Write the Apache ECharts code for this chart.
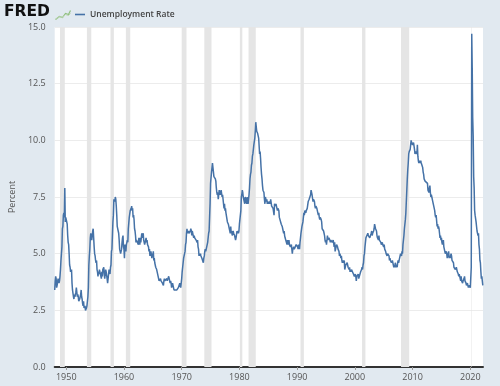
<!DOCTYPE html>
<html><head><meta charset="utf-8">
<script src="https://cdn.jsdelivr.net/npm/echarts@6/dist/echarts.min.js"></script>
<style>html,body{margin:0;padding:0;background:#e1e9f0;}#c{width:500px;height:386px;}</style>
</head><body><div id="c"></div>
<script>
const startYear = 1948;
// Monthly unemployment rate (%), one row per year starting 1948
const rates = [
[3.4,3.8,4.0,3.9,3.5,3.6,3.6,3.9,3.8,3.7,3.8,4.0],
[4.3,4.7,5.0,5.3,6.1,6.2,6.7,6.8,6.6,7.9,6.4,6.6],
[6.5,6.4,6.3,5.8,5.5,5.4,5.0,4.5,4.4,4.2,4.2,4.3],
[3.7,3.4,3.4,3.1,3.0,3.2,3.1,3.1,3.3,3.5,3.5,3.1],
[3.2,3.1,2.9,2.9,3.0,3.0,3.2,3.4,3.1,3.0,2.8,2.7],
[2.9,2.6,2.6,2.7,2.5,2.5,2.6,2.7,2.9,3.1,3.5,4.5],
[4.9,5.2,5.7,5.9,5.9,5.6,5.8,6.0,6.1,5.7,5.3,5.0],
[4.9,4.7,4.6,4.7,4.3,4.2,4.0,4.2,4.1,4.3,4.2,4.2],
[4.0,3.9,4.2,4.0,4.3,4.3,4.4,4.1,3.9,3.9,4.3,4.2],
[4.2,3.9,3.7,3.9,4.1,4.3,4.2,4.1,4.4,4.5,5.1,5.2],
[5.8,6.4,6.7,7.4,7.4,7.3,7.5,7.4,7.1,6.7,6.2,6.2],
[6.0,5.9,5.6,5.2,5.1,5.0,5.1,5.2,5.5,5.7,5.8,5.3],
[5.2,4.8,5.4,5.2,5.1,5.4,5.5,5.6,5.5,6.1,6.1,6.6],
[6.6,6.9,6.9,7.0,7.1,6.9,7.0,6.6,6.7,6.5,6.1,6.0],
[5.8,5.5,5.6,5.6,5.5,5.5,5.4,5.7,5.6,5.4,5.7,5.5],
[5.7,5.9,5.7,5.7,5.9,5.6,5.6,5.4,5.5,5.5,5.7,5.5],
[5.6,5.4,5.4,5.3,5.1,5.2,4.9,5.0,5.1,5.1,4.8,5.0],
[4.9,5.1,4.7,4.8,4.6,4.6,4.4,4.4,4.3,4.2,4.1,4.0],
[4.0,3.8,3.8,3.8,3.9,3.8,3.8,3.8,3.7,3.7,3.6,3.8],
[3.9,3.8,3.8,3.8,3.8,3.9,3.8,3.8,3.8,4.0,3.9,3.8],
[3.7,3.8,3.7,3.5,3.5,3.7,3.7,3.5,3.4,3.4,3.4,3.4],
[3.4,3.4,3.4,3.4,3.4,3.5,3.5,3.5,3.7,3.7,3.5,3.5],
[3.9,4.2,4.4,4.6,4.8,4.9,5.0,5.1,5.4,5.5,5.9,6.1],
[5.9,5.9,6.0,5.9,5.9,5.9,6.0,6.1,6.0,5.8,6.0,6.0],
[5.8,5.7,5.8,5.7,5.7,5.7,5.6,5.6,5.5,5.6,5.3,5.2],
[4.9,5.0,4.9,5.0,4.9,4.9,4.8,4.8,4.8,4.6,4.8,4.9],
[5.1,5.2,5.1,5.1,5.1,5.4,5.5,5.5,5.9,6.0,6.6,7.2],
[8.1,8.1,8.6,8.8,9.0,8.8,8.6,8.4,8.4,8.4,8.3,8.2],
[7.9,7.7,7.6,7.7,7.4,7.6,7.8,7.8,7.6,7.7,7.8,7.8],
[7.5,7.6,7.4,7.2,7.0,7.2,6.9,7.0,6.8,6.8,6.8,6.4],
[6.4,6.3,6.3,6.1,6.0,5.9,6.2,5.9,6.0,5.8,5.9,6.0],
[5.9,5.9,5.8,5.8,5.6,5.7,5.7,6.0,5.9,6.0,5.9,6.0],
[6.3,6.3,6.3,6.9,7.5,7.6,7.8,7.7,7.5,7.5,7.5,7.2],
[7.5,7.4,7.4,7.2,7.5,7.5,7.2,7.4,7.6,7.9,8.3,8.5],
[8.6,8.9,9.0,9.3,9.4,9.6,9.8,9.8,10.1,10.4,10.8,10.8],
[10.4,10.4,10.3,10.2,10.1,10.1,9.4,9.5,9.2,8.8,8.5,8.3],
[8.0,7.8,7.8,7.7,7.4,7.2,7.5,7.5,7.3,7.4,7.2,7.3],
[7.3,7.2,7.2,7.3,7.2,7.4,7.4,7.1,7.1,7.1,7.0,7.0],
[6.7,7.2,7.2,7.1,7.2,7.2,7.0,6.9,7.0,7.0,6.9,6.6],
[6.6,6.6,6.6,6.3,6.3,6.2,6.1,6.0,5.9,6.0,5.8,5.7],
[5.7,5.7,5.7,5.4,5.6,5.4,5.4,5.6,5.4,5.4,5.3,5.3],
[5.4,5.2,5.0,5.2,5.2,5.3,5.2,5.2,5.3,5.3,5.4,5.4],
[5.4,5.3,5.2,5.4,5.4,5.2,5.5,5.7,5.9,5.9,6.2,6.3],
[6.4,6.6,6.8,6.7,6.9,6.9,6.8,6.9,6.9,7.0,7.0,7.3],
[7.3,7.4,7.4,7.4,7.6,7.8,7.7,7.6,7.6,7.3,7.4,7.4],
[7.3,7.1,7.0,7.1,7.1,7.0,6.9,6.8,6.7,6.8,6.6,6.5],
[6.6,6.6,6.5,6.4,6.1,6.1,6.1,6.0,5.9,5.8,5.6,5.5],
[5.6,5.4,5.4,5.8,5.6,5.6,5.7,5.7,5.6,5.5,5.6,5.6],
[5.6,5.5,5.5,5.6,5.6,5.3,5.5,5.1,5.2,5.2,5.4,5.4],
[5.3,5.2,5.2,5.1,4.9,5.0,4.9,4.8,4.9,4.7,4.6,4.7],
[4.6,4.6,4.7,4.3,4.4,4.5,4.5,4.5,4.6,4.5,4.4,4.4],
[4.3,4.4,4.2,4.3,4.2,4.3,4.3,4.2,4.2,4.1,4.1,4.0],
[4.0,4.1,4.0,3.8,4.0,4.0,4.0,4.1,3.9,3.9,3.9,3.9],
[4.2,4.2,4.3,4.4,4.3,4.5,4.6,4.9,5.0,5.3,5.5,5.7],
[5.7,5.7,5.7,5.9,5.8,5.8,5.8,5.7,5.7,5.7,5.9,6.0],
[5.8,5.9,5.9,6.0,6.1,6.3,6.2,6.1,6.1,6.0,5.8,5.7],
[5.7,5.6,5.8,5.6,5.6,5.6,5.5,5.4,5.4,5.5,5.4,5.4],
[5.3,5.4,5.2,5.2,5.1,5.0,5.0,4.9,5.0,5.0,5.0,4.9],
[4.7,4.8,4.7,4.7,4.6,4.6,4.7,4.7,4.5,4.4,4.5,4.4],
[4.6,4.5,4.4,4.5,4.4,4.6,4.7,4.6,4.7,4.7,4.7,5.0],
[5.0,4.9,5.1,5.0,5.4,5.6,5.8,6.1,6.1,6.5,6.8,7.3],
[7.8,8.3,8.7,9.0,9.4,9.5,9.5,9.6,9.8,10.0,9.9,9.9],
[9.8,9.8,9.9,9.9,9.6,9.4,9.4,9.5,9.5,9.4,9.8,9.3],
[9.1,9.0,9.0,9.1,9.0,9.1,9.0,9.0,9.0,8.8,8.6,8.5],
[8.3,8.3,8.2,8.2,8.2,8.2,8.2,8.1,7.8,7.8,7.7,7.9],
[8.0,7.7,7.5,7.6,7.5,7.5,7.3,7.2,7.2,7.2,6.9,6.7],
[6.6,6.7,6.7,6.2,6.3,6.1,6.2,6.1,5.9,5.7,5.8,5.6],
[5.7,5.5,5.4,5.4,5.6,5.3,5.2,5.1,5.0,5.0,5.1,5.0],
[4.8,4.9,5.0,5.1,4.8,4.9,4.8,4.9,5.0,4.9,4.7,4.7],
[4.7,4.6,4.4,4.4,4.4,4.3,4.3,4.4,4.3,4.2,4.2,4.1],
[4.0,4.1,4.0,4.0,3.8,4.0,3.8,3.8,3.7,3.8,3.8,3.9],
[4.0,3.8,3.8,3.7,3.6,3.6,3.7,3.6,3.5,3.6,3.6,3.6],
[3.5,3.5,4.4,14.7,13.2,11.0,10.2,8.4,7.9,6.9,6.7,6.7],
[6.4,6.2,6.0,6.0,5.8,5.9,5.4,5.2,4.7,4.6,4.2,3.9],
[4.0,3.8,3.6,3.6]
];
// Recession periods [start, end] as "YYYY-MM"
const recessions = [
["1948-12","1949-10"],["1953-08","1954-05"],["1957-09","1958-04"],["1960-05","1961-02"],
["1970-01","1970-11"],["1973-12","1975-03"],["1980-02","1980-07"],["1981-08","1982-11"],
["1990-08","1991-03"],["2001-04","2001-11"],["2008-01","2009-06"],["2020-03","2020-04"]
];
const xTicks = [1950,1960,1970,1980,1990,2000,2010,2020];
const seriesName = "Unemployment Rate";

function ym(s){const [y,m]=s.split("-").map(Number);return y+(m-1)/12;}
const data=[];
rates.forEach((row,i)=>row.forEach((v,j)=>data.push([startYear+i+j/12,v])));
const areas=recessions.map(r=>[{xAxis:ym(r[0])},{xAxis:ym(r[1])}]);

const chart=echarts.init(document.getElementById('c'),null,{renderer:'canvas'});
const font='"Open Sans", "Noto Sans", sans-serif';
chart.setOption({
  backgroundColor:'#e1e9f0',
  animation:false,
  textStyle:{fontFamily:font},
  grid:{left:48,right:17,top:27,bottom:19,containLabel:false,show:true,backgroundColor:'#ffffff',borderWidth:0},
  legend:{data:[seriesName],left:70,top:5,itemWidth:10,itemHeight:8,itemGap:4,icon:'path://M0,4L10,4L10,5.6L0,5.6Z',
    textStyle:{fontSize:8.5,color:'#444',fontFamily:font,fontWeight:600}},
  graphic:[
    {type:'text',left:4,top:4,style:{text:'FRED',font:'bold 15.5px "DejaVu Sans", sans-serif',fill:'#111'}},
    {type:'polyline',left:53,top:8,shape:{points:[[0,10],[4,7],[7,8],[10,4],[13,5],[15,1]]},style:{stroke:'#8fbf7f',lineWidth:1.2,fill:null}},
    {type:'polyline',left:53,top:11,shape:{points:[[0,8],[4,5],[7,6],[10,3],[13,4],[15,2]]},style:{stroke:'#b8d4ae',lineWidth:1,fill:null}}
  ],
  xAxis:{type:'value',min:1948,max:2022.2,
    axisLine:{show:true,onZero:false,lineStyle:{color:'#333',width:2}},
    axisTick:{show:true,customValues:xTicks,length:3,lineStyle:{color:'#999'}},
    axisLabel:{customValues:xTicks,fontSize:9,color:'#555',margin:6,formatter:v=>String(Math.round(v))},
    splitLine:{show:false}},
  yAxis:{type:'value',min:0,max:15,interval:2.5,name:'Percent',nameLocation:'middle',nameGap:31,
    nameTextStyle:{fontSize:9,color:'#555'},
    axisLine:{show:false},axisTick:{show:false},
    axisLabel:{fontSize:9,color:'#555',margin:9,formatter:v=>v.toFixed(1)},
    splitLine:{show:true,lineStyle:{color:'#ececec',width:1}}},
  series:[{name:seriesName,type:'line',data:data,showSymbol:false,symbol:'none',
    lineStyle:{color:'#4572a7',width:1.5},itemStyle:{color:'#4572a7'},
    markArea:{silent:true,itemStyle:{color:'#e5e5e5'},data:areas},z:3}]
});
</script></body></html>
